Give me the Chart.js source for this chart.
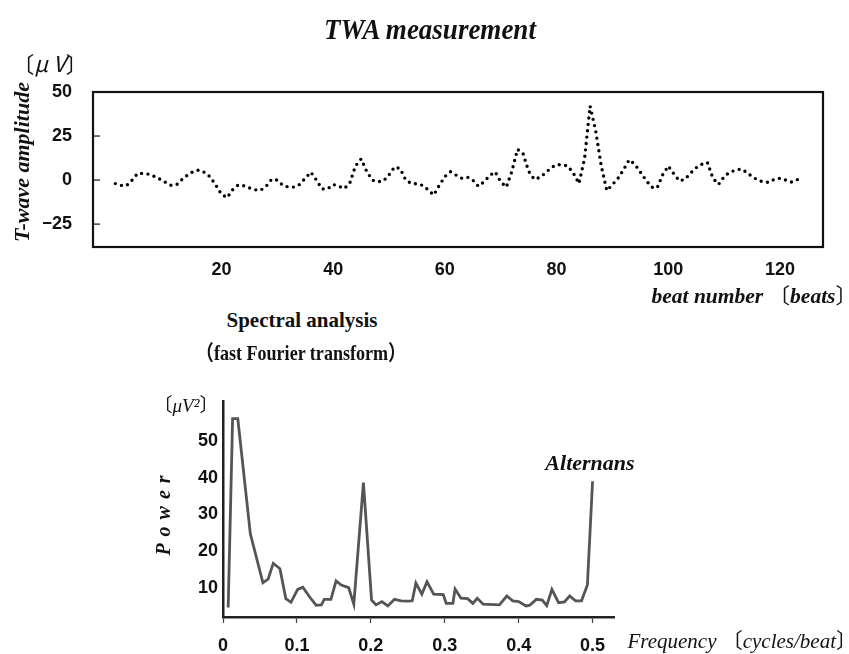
<!DOCTYPE html>
<html>
<head>
<meta charset="utf-8">
<script src="https://cdn.jsdelivr.net/npm/chart.js@4/dist/chart.umd.min.js"></script>
<style>
  body { margin: 0; background: #fff; }
  #page { position: relative; width: 849px; height: 654px; overflow: hidden; background: #fff; }
  .box { position: absolute; }
  .txt { position: absolute; white-space: nowrap; line-height: 1; color: #111; font-family: "Liberation Serif", "Noto Sans CJK JP", serif; transform: translate(-50%, -50%); }
  .rot { transform: translate(-50%, -50%) rotate(-90deg); }
  .right { transform: translate(0, -50%); }
  .bi { font-weight: bold; font-style: italic; }
  .up { font-style: normal; font-weight: normal; }
</style>
</head>
<body>
<div id="page">
  <div class="box" style="left:0;top:0;width:849px;height:300px"><canvas id="twaChart"></canvas></div>
  <div class="box" style="left:0;top:360px;width:849px;height:294px"><canvas id="fftChart"></canvas></div>

  <div class="txt bi" style="left:430px;top:30px;font-size:27px;transform:translate(-50%,-50%) scaleY(1.08)">TWA measurement</div>
  <div class="txt" style="left:50px;top:62px;font-size:22px;font-family:'Noto Sans CJK JP'">〔<i>μ V</i>〕</div>
  <div class="txt bi rot" style="left:22px;top:162px;font-size:22px">T-wave amplitude</div>
  <div class="txt bi right" style="right:-8px;top:297px;font-size:21.5px">beat number <span class="up">〔</span>beats<span class="up">〕</span></div>

  <div class="txt" style="left:302px;top:320px;font-size:21px;font-weight:bold">Spectral analysis</div>
  <div class="txt" style="left:301px;top:353px;font-size:21px;font-weight:bold;transform:translate(-50%,-50%) scaleX(0.86)">（fast Fourier transform）</div>

  <div class="txt" style="left:186px;top:405px;font-size:19px">〔<i>μV²</i>〕</div>
  <div class="txt bi rot" style="left:163px;top:512px;font-size:20px;letter-spacing:7px">Power</div>
  <div class="txt bi" style="left:590px;top:463px;font-size:22px">Alternans</div>
  <div class="txt right" style="right:-8px;top:641px;font-size:21px;font-style:italic">Frequency <span class="up">〔</span>cycles/beat<span class="up">〕</span></div>
</div>

<script>
// T-wave amplitude per beat (µV)
const beatNumbers = [
  1, 2, 3, 4, 5, 6, 7, 8, 9, 10, 11, 12, 13, 14, 15, 16, 17, 18, 19, 20,
  21, 22, 23, 24, 25, 26, 27, 28, 29, 30, 31, 32, 33, 34, 35, 36, 37, 38, 39, 40,
  41, 42, 43, 44, 45, 46, 47, 48, 49, 50, 51, 52, 53, 54, 55, 56, 57, 58, 59, 60,
  61, 62, 63, 64, 65, 66, 67, 68, 69, 70, 71, 72, 73, 74, 75, 76, 77, 78, 79, 80,
  81, 82, 83, 84, 85, 86, 87, 88, 89, 90, 91, 92, 93, 94, 95, 96, 97, 98, 99, 100,
  101, 102, 103, 104, 105, 106, 107, 108, 109, 110, 111, 112, 113, 114, 115, 116, 117, 118, 119, 120,
  121, 122, 123, 124
];
const twaValues = [
  -2, -3, -3.2, 0, 3.8, 3.8, 3.3, 2, 0.5, -1.3, -3, -2.5, 0.5, 3, 5, 5.7, 4.3, 1.7, -3, -8,
  -10, -5.5, -2.8, -3.2, -4.5, -5.5, -5.8, -3.5, 0.5, 0, -3, -4, -4, -2.5, 1, 4.5, 0, -5, -5, -2.5,
  -3.5, -4.8, -1.5, 8, 12, 5, 0, -1, -0.5, 3, 7.5, 6.5, 0, -2, -2.1, -3, -5.5, -8.5, -3, 2,
  4.7, 2.8, 1.1, 1.7, 0, -3.5, -1, 2.5, 4.7, -1, -4, 5, 17.5, 15, 5, 0.4, 1.5, 4, 7, 8.7,
  8.7, 8, 4, -2, 12, 42, 28, 8, -6, -2.6, 1, 6, 11.5, 9, 4.5, 0, -4, -4.5, 3, 8,
  3.5, -0.5, 0.5, 4, 7, 9, 10, 1, -2.5, 2, 4.5, 5.5, 6.3, 4.5, 2, 0, -1, -1.3, 0.5, 1,
  0, -1.2, 0, 2
];
const twaXTicks = [20, 40, 60, 80, 100, 120];
const twaYTicks = [-25, 0, 25, 50];

// FFT power spectrum (µV²) against frequency (cycles/beat)
const freq = [
  0.007, 0.013, 0.020, 0.037, 0.054, 0.061, 0.068, 0.077, 0.085, 0.092,
  0.101, 0.108, 0.117, 0.126, 0.133, 0.137, 0.146, 0.153, 0.160, 0.170,
  0.177, 0.190, 0.201, 0.207, 0.215, 0.223, 0.232, 0.241, 0.250, 0.256,
  0.261, 0.269, 0.276, 0.285, 0.298, 0.302, 0.311, 0.314, 0.322, 0.331,
  0.338, 0.344, 0.352, 0.374, 0.384, 0.392, 0.400, 0.410, 0.415, 0.424,
  0.432, 0.438, 0.445, 0.454, 0.462, 0.469, 0.477, 0.485, 0.493, 0.500
];
const power = [
  4.7, 56, 56, 24.7, 11.4, 12.4, 16.7, 15.2, 7.1, 6.1,
  9.6, 10.2, 7.6, 5.3, 5.4, 6.9, 6.9, 11.9, 10.8, 10.1,
  5.6, 38.6, 6.7, 5.4, 6.3, 5.1, 6.9, 6.5, 6.4, 6.5,
  11.3, 8.3, 11.7, 8.3, 8.2, 5.8, 5.8, 9.7, 7.2, 7.1,
  5.8, 7.2, 5.6, 5.4, 7.8, 6.5, 6.3, 5.1, 5.3, 6.9,
  6.7, 5.2, 9.6, 6.0, 6.2, 7.8, 6.5, 6.5, 10.8, 39
];
const fftXTicks = [0, 0.1, 0.2, 0.3, 0.4, 0.5];
const fftYTicks = [10, 20, 30, 40, 50];

const tickFont = { family: "'Liberation Sans', Arial, sans-serif", size: 18, weight: 'bold' };

// box around the top plot, with short inward ticks on the left
const framePlugin = {
  id: 'frame',
  afterDraw(chart) {
    const { ctx, chartArea: a, scales } = chart;
    ctx.save();
    ctx.strokeStyle = '#111';
    ctx.lineWidth = 2.2;
    ctx.strokeRect(a.left, a.top, a.right - a.left, a.bottom - a.top);
    ctx.lineWidth = 1.2;
    twaYTicks.forEach(v => {
      if (v >= scales.y.max) return;
      const y = scales.y.getPixelForValue(v);
      ctx.beginPath();
      ctx.moveTo(a.left, y);
      ctx.lineTo(a.left + 7, y);
      ctx.stroke();
    });
    ctx.restore();
  }
};

new Chart(document.getElementById('twaChart'), {
  type: 'line',
  data: {
    labels: beatNumbers,
    datasets: [{
      data: twaValues,
      borderColor: '#000',
      borderWidth: 3.4,
      borderDash: [0, 6.4],
      borderCapStyle: 'round',
      pointRadius: 0,
      tension: 0,
      fill: false
    }]
  },
  options: {
    responsive: true,
    maintainAspectRatio: false,
    animation: false,
    layout: { padding: { left: 43, right: 26, top: 92, bottom: 8 } },
    plugins: { legend: { display: false }, tooltip: { enabled: false } },
    scales: {
      x: {
        type: 'linear',
        min: -3,
        max: 127.7,
        afterBuildTicks: s => { s.ticks = twaXTicks.map(v => ({ value: v })); },
        afterFit: s => { s.height = 45; },
        grid: { display: false },
        border: { display: false },
        ticks: { font: tickFont, color: '#111', padding: 4, maxRotation: 0 }
      },
      y: {
        min: -38,
        max: 50,
        afterBuildTicks: s => { s.ticks = twaYTicks.map(v => ({ value: v })); },
        afterFit: s => { s.width = 50; },
        grid: { display: false },
        border: { display: false },
        ticks: { font: tickFont, color: '#111', padding: 13, callback: v => (v < 0 ? '\u2212' + Math.abs(v) : v) }
      }
    }
  },
  plugins: [framePlugin]
});

new Chart(document.getElementById('fftChart'), {
  type: 'line',
  data: {
    datasets: [{
      data: freq.map((f, i) => ({ x: f, y: power[i] })),
      borderColor: '#555',
      borderWidth: 2.8,
      borderJoinStyle: 'miter',
      pointRadius: 0,
      tension: 0,
      fill: false
    }]
  },
  options: {
    responsive: true,
    maintainAspectRatio: false,
    animation: false,
    layout: { padding: { left: 163, right: 235, top: 41, bottom: 0 } },
    plugins: { legend: { display: false }, tooltip: { enabled: false } },
    scales: {
      x: {
        type: 'linear',
        min: 0,
        max: 0.529,
        afterBuildTicks: s => { s.ticks = fftXTicks.map(v => ({ value: v })); },
        afterFit: s => { s.height = 37; },
        grid: { drawOnChartArea: false, drawTicks: true, tickLength: 6, tickColor: '#444', tickWidth: 1.2 },
        border: { color: '#222', width: 2.5 },
        ticks: { font: tickFont, color: '#111', padding: 12, maxRotation: 0 }
      },
      y: {
        min: 2.1,
        max: 60.8,
        afterBuildTicks: s => { s.ticks = fftYTicks.map(v => ({ value: v })); },
        afterFit: s => { s.width = 60; },
        grid: { display: true, drawOnChartArea: false, drawTicks: false },
        border: { color: '#222', width: 2.5 },
        ticks: { font: tickFont, color: '#111', padding: 5 }
      }
    }
  }
});
</script>
</body>
</html>
